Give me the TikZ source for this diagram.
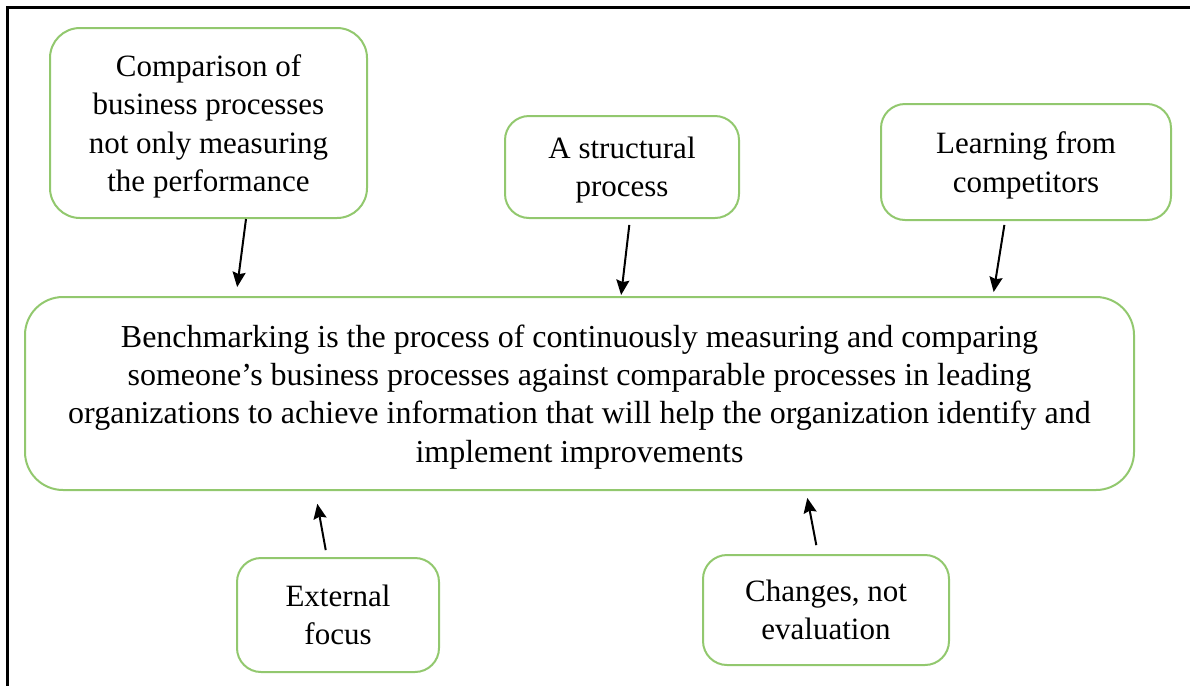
\documentclass[tikz,border=0pt]{standalone}
\usepackage{fontspec}
\setmainfont{Liberation Serif}
\usepackage{tikz}
\usetikzlibrary{positioning}
\usetikzlibrary{arrows.meta}
\definecolor{boxgreen}{RGB}{146,200,110}
\tikzset{
    every picture/.append style={
        >={Stealth[length=15pt,width=13pt,inset=2pt]}
    }
}
\tikzset{
    idea/.style={draw=boxgreen, line width=2pt, rounded corners=24pt, align=center,
        font=\fontsize{31}{38.3}\selectfont, inner sep=0pt, text depth=0pt},
    link/.style={->, line width=2pt, black},
}

\begin{document}
\begin{tikzpicture}[x=1pt, y=-1pt]
		\useasboundingbox (0,0) rectangle (1190,686);
		% frame of the figure (only top and left edges show)
		\draw[line width=3pt] (1190,7) -- (7,7) -- (7,686);

		\node[idea, font=\fontsize{32}{38.3}\selectfont, rounded corners=38pt, minimum width=1109pt, minimum height=193pt] (bench) at (579.5,393.5)
			{Benchmarking is the process of continuously measuring and comparing\\
			 someone's business processes against comparable processes in leading\\
			 organizations to achieve information that will help the organization identify and\\
			 implement improvements};

		\node[idea, rounded corners=30pt, minimum width=317pt, minimum height=190pt] (compare) at (208.5,123)
			{Comparison of\\ business processes\\ not only measuring\\ the performance};
		\node[idea, minimum width=234pt, minimum height=102pt] (struct) at (622,167)
			{A structural\\ process};
		\node[idea, minimum width=290pt, minimum height=116pt] (learn) at (1026,162)
			{Learning from\\ competitors};
		\node[idea, minimum width=202pt, minimum height=114pt] (external) at (338,615)
			{External\\ focus};
		\node[idea, minimum width=246pt, minimum height=110pt] (changes) at (826,610)
			{Changes, not\\ evaluation};

		\draw[link, shorten >=9pt] ([xshift=37.5pt]compare.south) -- ([xshift=-343.5pt]bench.north);
		\draw[link, shorten <=6pt, shorten >=1pt] ([xshift=8pt]struct.south) -- ([xshift=41.5pt]bench.north);
		\draw[link, shorten <=4pt, shorten >=4pt] ([xshift=-21pt]learn.south) -- ([xshift=413.5pt]bench.north);
		\draw[link, shorten <=7pt, shorten >=13pt] ([xshift=-11pt]external.north) -- ([xshift=-264.5pt]bench.south);
		\draw[link, shorten <=9pt, shorten >=7pt] ([xshift=-8pt]changes.north) -- ([xshift=226.5pt]bench.south);
\end{tikzpicture}
\end{document}
